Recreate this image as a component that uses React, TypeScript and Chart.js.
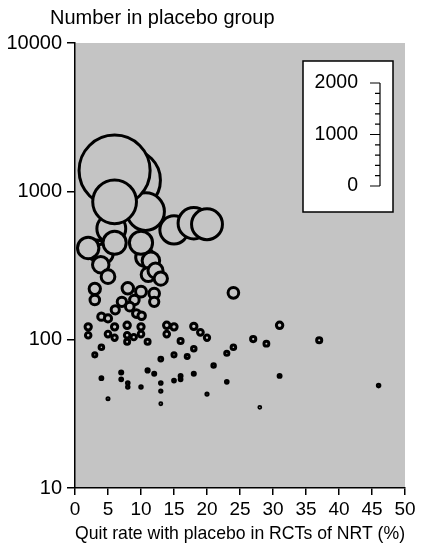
import React, { useEffect, useRef } from 'react';
import { Chart, registerables } from 'chart.js';

Chart.register(...registerables);

// one entry per trial, drawn in this order (later ones sit on top)
const quitRate = [
  8.3, 10.7, 6.0, 5.5, 6.0, 15.0, 18.0, 20.0,
  3.3, 4.3, 10.6, 11.5, 2.0, 6.0, 10.0,
  3.9, 5.0, 11.1, 12.2, 13.0, 24.0,
  3.0, 8.0, 10.0, 12.0, 3.0, 9.0, 7.1, 12.0, 8.3, 6.1, 9.3, 10.1, 4.0, 5.0,
  13.9, 7.9, 31.0, 18.0, 2.0, 6.0, 10.0, 15.0, 19.0, 5.0, 10.0, 13.9, 2.0, 7.9,
  8.9, 6.0, 20.0, 27.0, 37.0, 16.0, 7.9, 11.0, 29.0, 4.0, 24.0, 18.0, 23.0,
  3.0, 15.0, 17.0, 13.0, 21.0, 11.0, 7.0, 12.0, 18.0, 16.0, 31.0, 4.0, 16.0,
  7.0, 15.0, 23.0, 8.0, 13.0, 46.0, 8.0, 10.0, 13.0, 20.0, 5.0, 13.0, 28.0,
];
const placeboN = [
  1190, 730, 1380, 560, 850, 550, 610, 600,
  400, 380, 360, 340, 415, 450, 450,
  320, 266, 275, 292, 258, 207,
  220, 222, 211, 205, 185, 185, 180, 180, 167, 159, 150, 145, 143, 139,
  125, 125, 125, 123, 122, 122, 122, 122, 112, 109, 109, 109, 107, 107,
  104, 103, 103, 101, 99, 98, 97, 97, 94, 89, 89, 87, 81,
  79, 79, 77, 74, 67, 62, 60, 59, 59, 57, 57, 55, 54,
  54, 53, 52, 51, 51, 49, 48, 48, 45, 43, 40, 37, 35,
];

const yTicks = [10, 100, 1000, 10000];
const legendTicks = [0, 1000, 2000];
const legendMinorStep = 200;

const LEGEND_PX = 103; // length of the inset's 0-2000 scale, also sets bubble diameters
const pxPerUnit = LEGEND_PX / legendTicks[legendTicks.length - 1];

const FONT = "'Liberation Sans', Arial, Helvetica, sans-serif";
const PLOT_GREY = '#c4c4c4';

const plotBackground = {
  id: 'plotBackground',
  beforeDraw(chart: any) {
    const { ctx, chartArea: a } = chart;
    ctx.save();
    ctx.fillStyle = PLOT_GREY;
    ctx.fillRect(a.left, a.top, a.right - a.left, a.bottom - a.top);
    ctx.restore();
  },
};

const titleAndInset = {
  id: 'titleAndInset',
  afterDraw(chart: any) {
    const { ctx, chartArea: a } = chart;
    ctx.save();
    ctx.fillStyle = '#000';
    ctx.font = `20px ${FONT}`;
    ctx.textAlign = 'left';
    ctx.textBaseline = 'middle';
    ctx.fillText('Number in placebo group', 50, 18);

    // size key
    const bx = a.right - 102;
    const by = a.top + 18;
    ctx.fillStyle = '#fff';
    ctx.fillRect(bx, by, 90, 151);
    ctx.strokeStyle = '#000';
    ctx.lineWidth = 1.5;
    ctx.strokeRect(bx, by, 90, 151);

    const axisX = bx + 77;
    const y0 = by + 125;
    const maxV = legendTicks[legendTicks.length - 1];
    ctx.lineWidth = 1.2;
    ctx.beginPath();
    ctx.moveTo(axisX, y0);
    ctx.lineTo(axisX, y0 - maxV * pxPerUnit);
    for (let v = 0; v <= maxV; v += legendMinorStep) {
      const y = y0 - v * pxPerUnit;
      const len = legendTicks.includes(v) ? 10 : 5;
      ctx.moveTo(axisX - len, y);
      ctx.lineTo(axisX, y);
    }
    ctx.stroke();

    ctx.fillStyle = '#000';
    ctx.font = `19.5px ${FONT}`;
    ctx.textAlign = 'right';
    legendTicks.forEach((v) => {
      ctx.fillText(String(v), axisX - 22, y0 - v * pxPerUnit);
    });
    ctx.restore();
  },
};

const App: React.FC = () => {
  const canvasRef = useRef<HTMLCanvasElement | null>(null);

  useEffect(() => {
    document.body.style.margin = '0';
    if (!canvasRef.current) return;
    const ctx = canvasRef.current.getContext('2d');
    if (!ctx) return;

    const points = quitRate.map((x, i) => ({ x, y: placeboN[i] }));

    const chart = new Chart(ctx, {
      type: 'bubble',
      data: {
        datasets: [
          {
            data: points,
            backgroundColor: PLOT_GREY,
            borderColor: '#000',
            borderWidth: 3,
            radius: (c: any) => (c.raw ? (c.raw.y * pxPerUnit) / 2 : 0),
          } as any,
        ],
      },
      options: {
        responsive: false,
        animation: false,
        events: [],
        layout: { padding: { top: 43, right: 29, left: 0, bottom: 0 }, autoPadding: false },
        plugins: {
          legend: { display: false },
          tooltip: { enabled: false },
          title: { display: false },
        },
        scales: {
          x: {
            type: 'linear',
            min: 0,
            max: 50,
            ticks: {
              stepSize: 5,
              color: '#000',
              padding: 3,
              maxRotation: 0,
              autoSkip: false,
              font: { family: FONT, size: 19 },
            },
            grid: { drawOnChartArea: false, drawTicks: true, tickLength: 7, color: '#000', lineWidth: 1.5 },
            border: { display: true, color: '#000', width: 1.5 },
            title: {
              display: true,
              text: 'Quit rate with placebo in RCTs of NRT (%)',
              color: '#000',
              font: { family: FONT, size: 18.5 },
              padding: { top: 0, bottom: 8 },
            },
            afterFit: (s: any) => {
              s.height = 65;
            },
          },
          y: {
            type: 'logarithmic',
            min: 10,
            max: 10000,
            afterBuildTicks: (s: any) => {
              s.ticks = yTicks.map((value) => ({ value }));
            },
            ticks: {
              color: '#000',
              padding: 5,
              font: { family: FONT, size: 20 },
              callback: (v: any) => String(v),
            },
            grid: { drawOnChartArea: false, drawTicks: true, tickLength: 8, color: '#000', lineWidth: 1.5 },
            border: { display: true, color: '#000', width: 1.5 },
            afterFit: (s: any) => {
              s.width = 75;
            },
          },
        },
      },
      plugins: [plotBackground, titleAndInset],
    } as any);

    return () => {
      chart.destroy();
    };
  }, []);

  return <canvas ref={canvasRef} width={434} height={553} style={{ display: 'block' }} />;
};

export default App;
